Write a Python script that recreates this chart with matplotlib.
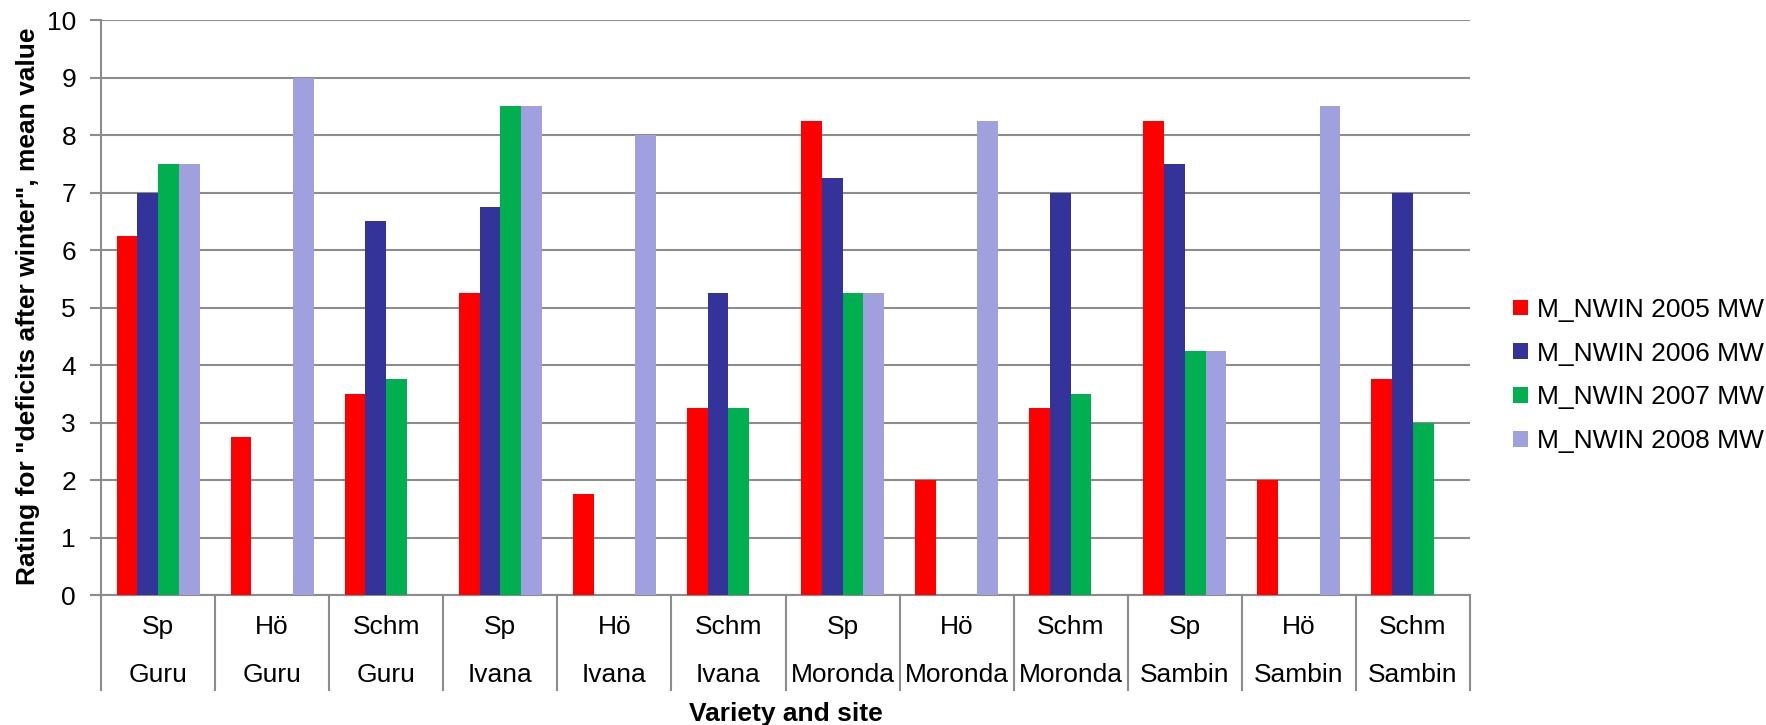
import matplotlib.pyplot as plt
import numpy as np
from matplotlib.patches import Patch
from matplotlib.transforms import blended_transform_factory

plt.rcParams['font.family'] = ['Liberation Sans', 'DejaVu Sans']

sites = ['Sp', 'Hö', 'Schm'] * 4
varieties = ['Guru'] * 3 + ['Ivana'] * 3 + ['Moronda'] * 3 + ['Sambin'] * 3

series_names = ['M_NWIN 2005 MW', 'M_NWIN 2006 MW', 'M_NWIN 2007 MW', 'M_NWIN 2008 MW']
nwin_2005 = [6.25, 2.75, 3.5, 5.25, 1.75, 3.25, 8.25, 2.0, 3.25, 8.25, 2.0, 3.75]
nwin_2006 = [7.0, np.nan, 6.5, 6.75, np.nan, 5.25, 7.25, np.nan, 7.0, 7.5, np.nan, 7.0]
nwin_2007 = [7.5, np.nan, 3.75, 8.5, np.nan, 3.25, 5.25, np.nan, 3.5, 4.25, np.nan, 3.0]
nwin_2008 = [7.5, 9.0, np.nan, 8.5, 8.0, np.nan, 5.25, 8.25, np.nan, 4.25, 8.5, np.nan]
colors = ['#FF0000', '#333399', '#00B050', '#A0A0DE']

FS = 19
GRID = '#8C8C8C'

fig = plt.figure(figsize=(17.66, 7.25), dpi=100)
ax = fig.add_axes([0.0572, 0.1793, 0.7752, 0.7931])

n = len(sites)
x = np.arange(n)
width = 0.182
all_series = [nwin_2005, nwin_2006, nwin_2007, nwin_2008]
for i, (vals, c) in enumerate(zip(all_series, colors)):
    offs = (i - 1.5) * width
    ax.bar(x + offs, vals, width=width, color=c, edgecolor='none', zorder=3)

ax.set_xlim(-0.5, n - 0.5)
ax.set_ylim(0, 10)
ax.set_yticks(range(0, 11))
ax.yaxis.grid(True, color=GRID, linewidth=1.5, zorder=0)
ax.tick_params(axis='y', labelsize=FS, length=8, width=1.5, color=GRID, pad=10)
ax.set_xticks([])

for s in ['top', 'right']:
    ax.spines[s].set_visible(False)
for s in ['left', 'bottom']:
    ax.spines[s].set_color(GRID)
    ax.spines[s].set_linewidth(1.5)

# two-level category axis
trans = blended_transform_factory(ax.transData, ax.transAxes)
for k in range(n + 1):
    ax.plot([k - 0.5, k - 0.5], [0, -0.165], transform=trans, color=GRID,
            linewidth=1.5, clip_on=False)
for k in range(n):
    ax.text(k, -0.056, sites[k], transform=trans, ha='center', va='center', fontsize=FS)
    ax.text(k, -0.139, varieties[k], transform=trans, ha='center', va='center', fontsize=FS)

ax.text(0.5, -0.207, 'Variety and site', transform=ax.transAxes, ha='center',
        va='center', fontsize=FS, fontweight='bold')
fig.text(0.016, 0.577, 'Rating for "deficits after winter", mean value', rotation=90,
         ha='center', va='center', fontsize=FS, fontweight='bold')

handles = [Patch(facecolor=c, edgecolor='none') for c in colors]
fig.legend(handles, series_names, loc='center left', bbox_to_anchor=(0.851, 0.482),
           frameon=False, fontsize=FS, handlelength=0.55, handleheight=0.55,
           handletextpad=0.35, labelspacing=0.75, borderaxespad=0)

fig.savefig('out.png', dpi=100)
